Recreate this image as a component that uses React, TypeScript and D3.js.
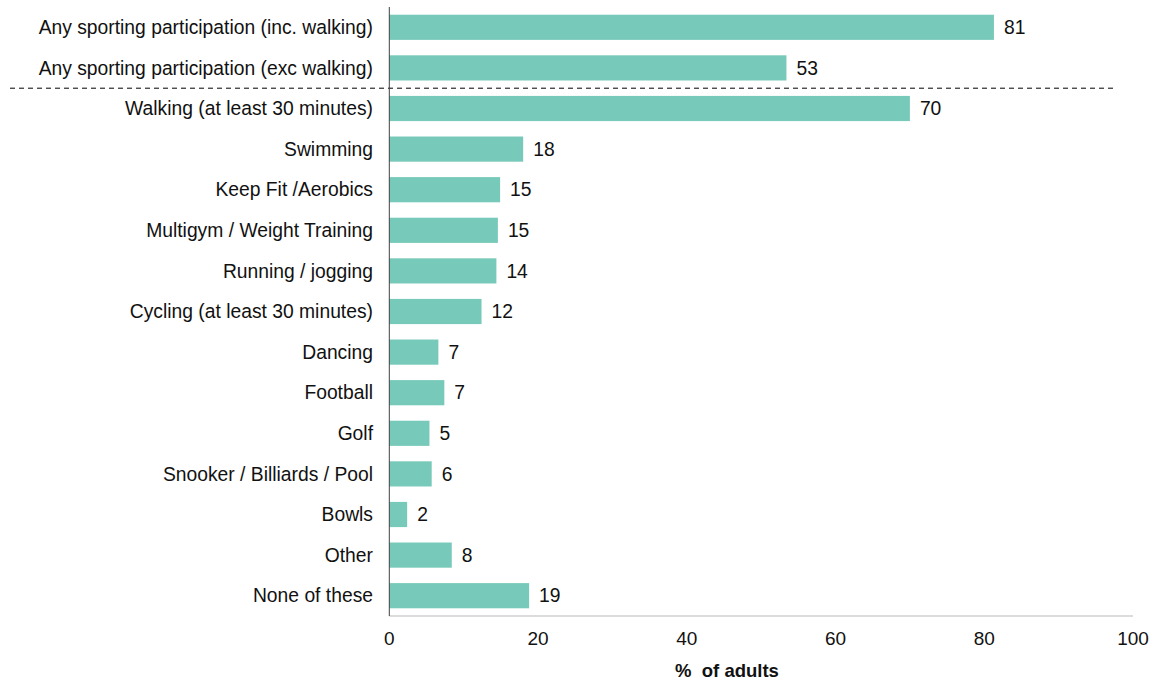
import React from "react";
import * as d3 from "d3";

const categories = [
  "Any sporting participation (inc. walking)",
  "Any sporting participation (exc walking)",
  "Walking (at least 30 minutes)",
  "Swimming",
  "Keep Fit /Aerobics",
  "Multigym / Weight Training",
  "Running / jogging",
  "Cycling (at least 30 minutes)",
  "Dancing",
  "Football",
  "Golf",
  "Snooker / Billiards / Pool",
  "Bowls",
  "Other",
  "None of these",
];
const values = [81.3, 53.4, 70.0, 18.0, 14.9, 14.6, 14.4, 12.4, 6.6, 7.4, 5.4, 5.7, 2.4, 8.4, 18.8];
const labels = ["81", "53", "70", "18", "15", "15", "14", "12", "7", "7", "5", "6", "2", "8", "19"];
const xTicks = [0, 20, 40, 60, 80, 100];
const axisTitle = "%  of adults";

const W = 1154;
const H = 681;
const left = 389.3;
const right = 1133;
const top = 7;
const bottom = 616;
const barColor = "#77C9B9";
const font = "'Liberation Sans', Arial, sans-serif";

export default function App() {
  const x = d3.scaleLinear().domain([0, 100]).range([left, right]);
  const y = d3.scaleBand<string>().domain(categories).range([top, bottom]).paddingInner(0.38).paddingOuter(0.19);
  const dashY = ((y(categories[1]) as number) + y.bandwidth() + (y(categories[2]) as number)) / 2;

  return (
    <svg width={W} height={H} style={{ position: "absolute", left: 0, top: 0 }} fontFamily={font}>
      {categories.map((c, i) => (
        <g key={c}>
          <rect x={x(0)} y={y(c)} width={x(values[i]) - x(0)} height={y.bandwidth()} fill={barColor} />
          <text
            x={x(values[i]) + 10}
            y={(y(c) as number) + y.bandwidth() / 2}
            dy="0.35em"
            fontSize={19.3}
            fill="#111"
          >
            {labels[i]}
          </text>
          <text
            x={373}
            y={(y(c) as number) + y.bandwidth() / 2}
            dy="0.35em"
            textAnchor="end"
            fontSize={19.3}
            fill="#111"
          >
            {c}
          </text>
        </g>
      ))}
      <line x1={10} x2={1113} y1={dashY} y2={dashY} stroke="#000" strokeWidth={1} strokeDasharray="5,4" />
      <line x1={left} x2={right} y1={bottom} y2={bottom} stroke="#d0d0d0" strokeWidth={1.5} />
      <line x1={left} x2={left} y1={top} y2={bottom} stroke="#404040" strokeWidth={1} />
      {xTicks.map((t) => (
        <text key={t} x={x(t)} y={645} textAnchor="middle" fontSize={19} fill="#111">
          {t}
        </text>
      ))}
      <text x={727} y={677} textAnchor="middle" fontSize={18.5} fontWeight="bold" fill="#111" style={{ whiteSpace: "pre" }}>
        {axisTitle}
      </text>
    </svg>
  );
}
